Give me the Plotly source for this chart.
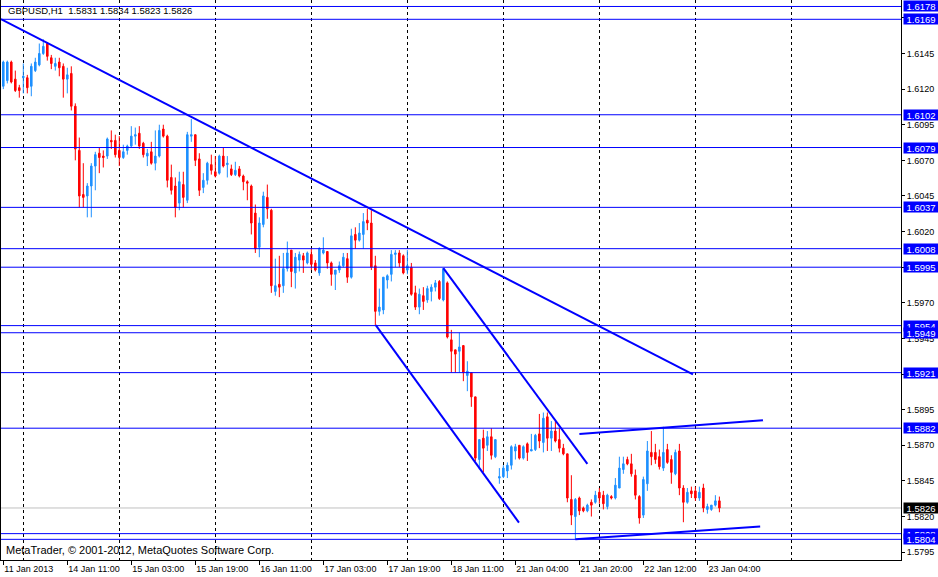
import plotly.graph_objects as go

# ---------------- data (GBPUSD H1) ----------------
opens = [1.6122, 1.6126, 1.6139, 1.6127, 1.6121, 1.6128, 1.6128, 1.6122, 1.6133, 1.6137,
         1.6145, 1.6152, 1.6142, 1.6136, 1.6139, 1.6136, 1.6127, 1.6131, 1.6108, 1.6077,
         1.6046, 1.6045, 1.6052, 1.6066, 1.6075, 1.6073, 1.6073, 1.6084, 1.6084, 1.6077,
         1.6072, 1.6077, 1.6080, 1.6087, 1.6089, 1.6082, 1.6073, 1.6076, 1.6068, 1.6073,
         1.6092, 1.6087, 1.6058, 1.6052, 1.6040, 1.6053, 1.6042, 1.6087, 1.6088, 1.6071,
         1.6051, 1.6056, 1.6067, 1.6062, 1.6061, 1.6073, 1.6067, 1.6064, 1.6060, 1.6064,
         1.6059, 1.6055, 1.6052, 1.6033, 1.6009, 1.6025, 1.6044, 1.6035, 1.5978, 1.5983,
         1.5982, 1.5994, 1.6007, 1.5991, 1.6000, 1.6003, 1.5998, 1.6004, 1.5998, 1.5991,
         1.6005, 1.6006, 1.5998, 1.5990, 1.5993, 1.5996, 1.6001, 1.5988, 1.6018, 1.6014,
         1.6018, 1.6028, 1.6026, 1.5996, 1.5964, 1.5965, 1.5986, 1.5990, 1.6004, 1.6005,
         1.6003, 1.5993, 1.5995, 1.5977, 1.5967, 1.5975, 1.5972, 1.5978, 1.5981, 1.5985,
         1.5972, 1.5984, 1.5944, 1.5937, 1.5936, 1.5940, 1.5919, 1.5921, 1.5904, 1.5860,
         1.5875, 1.5870, 1.5876, 1.5862, 1.5847, 1.5848, 1.5852, 1.5856, 1.5866, 1.5870,
         1.5861, 1.5871, 1.5866, 1.5867, 1.5878, 1.5872, 1.5890, 1.5875, 1.5880, 1.5874,
         1.5868, 1.5864, 1.5832, 1.5820, 1.5833, 1.5826, 1.5824, 1.5830, 1.5830, 1.5837,
         1.5835, 1.5827, 1.5834, 1.5833, 1.5840, 1.5853, 1.5860, 1.5857, 1.5849, 1.5834,
         1.5821, 1.5843, 1.5865, 1.5865, 1.5862, 1.5854, 1.5867, 1.5860, 1.5850, 1.5866,
         1.5840, 1.5830, 1.5838, 1.5838, 1.5833, 1.5840, 1.5825, 1.5825, 1.5828, 1.5831]
highs = [1.6140, 1.6140, 1.6140, 1.6133, 1.6123, 1.6138, 1.6130, 1.6138, 1.6142, 1.6152,
         1.6155, 1.6153, 1.6144, 1.6142, 1.6142, 1.6138, 1.6135, 1.6136, 1.6110, 1.6086,
         1.6068, 1.6054, 1.6068, 1.6076, 1.6079, 1.6077, 1.6086, 1.6091, 1.6088, 1.6087,
         1.6081, 1.6081, 1.6094, 1.6093, 1.6094, 1.6083, 1.6078, 1.6083, 1.6091, 1.6095,
         1.6095, 1.6088, 1.6067, 1.6058, 1.6062, 1.6062, 1.6090, 1.6099, 1.6088, 1.6075,
         1.6061, 1.6069, 1.6074, 1.6073, 1.6074, 1.6079, 1.6073, 1.6067, 1.6069, 1.6066,
         1.6060, 1.6056, 1.6053, 1.6039, 1.6030, 1.6048, 1.6053, 1.6036, 1.6001, 1.6003,
         1.6005, 1.6013, 1.6007, 1.6005, 1.6006, 1.6005, 1.6006, 1.6008, 1.6000, 1.6009,
         1.6016, 1.6006, 1.5999, 1.5993, 1.5999, 1.6005, 1.6005, 1.6022, 1.6023, 1.6026,
         1.6033, 1.6036, 1.6035, 1.6003, 1.5980, 1.5988, 1.5990, 1.6007, 1.6007, 1.6007,
         1.6004, 1.6007, 1.5998, 1.5982, 1.5980, 1.5981, 1.5982, 1.5983, 1.5986, 1.5986,
         1.5994, 1.5985, 1.5951, 1.5937, 1.5949, 1.5940, 1.5929, 1.5921, 1.5904, 1.5874,
         1.5881, 1.5880, 1.5882, 1.5874, 1.5854, 1.5856, 1.5858, 1.5870, 1.5871, 1.5870,
         1.5870, 1.5872, 1.5878, 1.5878, 1.5892, 1.5893, 1.5893, 1.5887, 1.5887, 1.5882,
         1.5871, 1.5864, 1.5849, 1.5833, 1.5834, 1.5827, 1.5829, 1.5832, 1.5838, 1.5840,
         1.5838, 1.5836, 1.5835, 1.5847, 1.5862, 1.5862, 1.5862, 1.5864, 1.5853, 1.5835,
         1.5848, 1.5873, 1.5880, 1.5871, 1.5867, 1.5883, 1.5871, 1.5863, 1.5867, 1.5871,
         1.5842, 1.5840, 1.5841, 1.5841, 1.5841, 1.5843, 1.5829, 1.5828, 1.5835, 1.5834]
lows = [1.6120, 1.6124, 1.6124, 1.6118, 1.6114, 1.6117, 1.6117, 1.6115, 1.6132, 1.6136,
        1.6144, 1.6140, 1.6134, 1.6133, 1.6129, 1.6114, 1.6117, 1.6105, 1.6070, 1.6037,
        1.6037, 1.6030, 1.6030, 1.6049, 1.6061, 1.6065, 1.6071, 1.6078, 1.6072, 1.6066,
        1.6071, 1.6074, 1.6079, 1.6081, 1.6078, 1.6072, 1.6066, 1.6067, 1.6063, 1.6072,
        1.6086, 1.6051, 1.6046, 1.6030, 1.6035, 1.6037, 1.6040, 1.6083, 1.6066, 1.6045,
        1.6047, 1.6053, 1.6060, 1.6058, 1.6060, 1.6065, 1.6058, 1.6059, 1.6059, 1.6058,
        1.6049, 1.6042, 1.6018, 1.6005, 1.6002, 1.6023, 1.6029, 1.5977, 1.5975, 1.5974,
        1.5977, 1.5992, 1.5981, 1.5980, 1.5992, 1.5991, 1.5997, 1.5993, 1.5992, 1.5989,
        1.6004, 1.5994, 1.5982, 1.5979, 1.5991, 1.5995, 1.5984, 1.5987, 1.6008, 1.6013,
        1.6008, 1.6021, 1.5993, 1.5954, 1.5961, 1.5962, 1.5980, 1.5985, 1.5995, 1.5995,
        1.5990, 1.5990, 1.5975, 1.5965, 1.5962, 1.5965, 1.5970, 1.5971, 1.5978, 1.5972,
        1.5971, 1.5945, 1.5921, 1.5921, 1.5921, 1.5915, 1.5908, 1.5897, 1.5859, 1.5853,
        1.5851, 1.5866, 1.5860, 1.5861, 1.5843, 1.5847, 1.5847, 1.5853, 1.5860, 1.5860,
        1.5860, 1.5859, 1.5866, 1.5866, 1.5868, 1.5865, 1.5866, 1.5866, 1.5872, 1.5865,
        1.5863, 1.5830, 1.5814, 1.5804, 1.5821, 1.5823, 1.5823, 1.5820, 1.5829, 1.5829,
        1.5825, 1.5825, 1.5832, 1.5832, 1.5840, 1.5850, 1.5856, 1.5848, 1.5832, 1.5815,
        1.5819, 1.5838, 1.5856, 1.5857, 1.5853, 1.5852, 1.5857, 1.5843, 1.5849, 1.5835,
        1.5816, 1.5829, 1.5833, 1.5831, 1.5831, 1.5823, 1.5822, 1.5824, 1.5827, 1.5823]
closes = [1.6139, 1.6139, 1.6125, 1.6119, 1.6119, 1.6129, 1.6121, 1.6136, 1.6139, 1.6145,
          1.6150, 1.6143, 1.6138, 1.6138, 1.6135, 1.6127, 1.6130, 1.6108, 1.6078, 1.6045,
          1.6044, 1.6052, 1.6066, 1.6074, 1.6072, 1.6072, 1.6085, 1.6083, 1.6074, 1.6072,
          1.6076, 1.6080, 1.6087, 1.6088, 1.6080, 1.6074, 1.6075, 1.6068, 1.6073, 1.6091,
          1.6087, 1.6056, 1.6049, 1.6037, 1.6055, 1.6044, 1.6088, 1.6088, 1.6070, 1.6049,
          1.6056, 1.6068, 1.6063, 1.6059, 1.6073, 1.6066, 1.6068, 1.6060, 1.6063, 1.6059,
          1.6055, 1.6054, 1.6026, 1.6008, 1.6026, 1.6045, 1.6036, 1.5982, 1.5982, 1.5981,
          1.5994, 1.6005, 1.5992, 1.6002, 1.6004, 1.6000, 1.6005, 1.5997, 1.5993, 1.6008,
          1.6007, 1.5998, 1.5990, 1.5993, 1.5996, 1.6002, 1.5988, 1.6017, 1.6014, 1.6019,
          1.6027, 1.6026, 1.5995, 1.5964, 1.5967, 1.5988, 1.5989, 1.6004, 1.6005, 1.5998,
          1.5991, 1.5996, 1.5976, 1.5967, 1.5976, 1.5971, 1.5980, 1.5981, 1.5984, 1.5973,
          1.5994, 1.5946, 1.5936, 1.5934, 1.5939, 1.5921, 1.5922, 1.5904, 1.5861, 1.5874,
          1.5868, 1.5876, 1.5863, 1.5874, 1.5848, 1.5854, 1.5856, 1.5869, 1.5869, 1.5861,
          1.5869, 1.5865, 1.5867, 1.5877, 1.5873, 1.5889, 1.5875, 1.5880, 1.5873, 1.5868,
          1.5864, 1.5833, 1.5821, 1.5832, 1.5824, 1.5824, 1.5828, 1.5828, 1.5835, 1.5833,
          1.5829, 1.5835, 1.5833, 1.5842, 1.5854, 1.5857, 1.5857, 1.5850, 1.5835, 1.5819,
          1.5846, 1.5866, 1.5862, 1.5860, 1.5855, 1.5865, 1.5858, 1.5851, 1.5865, 1.5840,
          1.5830, 1.5837, 1.5836, 1.5833, 1.5837, 1.5826, 1.5827, 1.5828, 1.5831, 1.5826]
bars = list(range(len(opens)))

tick_bars = [0, 16, 32, 48, 64, 80, 96, 112, 128, 144, 160, 176]
tick_labels = ["11 Jan 2013", "14 Jan 11:00", "15 Jan 03:00", "15 Jan 19:00",
               "16 Jan 11:00", "17 Jan 03:00", "17 Jan 19:00", "18 Jan 11:00",
               "21 Jan 04:00", "21 Jan 20:00", "22 Jan 12:00", "23 Jan 04:00"]
grid_bars = [5, 29, 53, 77, 101, 125, 149, 173, 197]
price_ticks = [1.5795, 1.5820, 1.5845, 1.5870, 1.5895, 1.5920, 1.5945, 1.5970,
               1.5995, 1.6020, 1.6045, 1.6070, 1.6095, 1.6120, 1.6145, 1.6170]

level_prices = [1.6178, 1.6169, 1.6102, 1.6079, 1.6037, 1.6008, 1.5995,
                1.5954, 1.5949, 1.5921, 1.5882, 1.5808, 1.5804]
bid_price = 1.5826

trend_x0 = [-0.6, 93.1, 110.0, 144.0, 143.0]
trend_y0 = [1.61691, 1.59544, 1.59943, 1.58780, 1.58040]
trend_x1 = [172.4, 128.9, 146.0, 189.9, 189.2]
trend_y1 = [1.59198, 1.58157, 1.58569, 1.58876, 1.58130]

header = "GBPUSD,H1  1.5831 1.5834 1.5823 1.5826"
footer = "MetaTrader, \u00a9 2001-2012, MetaQuotes Software Corp."

BLUE_LINE = "#0000FF"
BULL = "#1E90FF"
BEAR = "#FF0000"
FONT = "Liberation Sans"

fig = go.Figure()

fig.add_trace(go.Candlestick(
    x=bars, open=opens, high=highs, low=lows, close=closes,
    increasing=dict(line=dict(color=BULL, width=1), fillcolor=BULL),
    decreasing=dict(line=dict(color=BEAR, width=1), fillcolor=BEAR),
    whiskerwidth=0, hoverinfo="skip", showlegend=False,
))

for xa, ya, xb, yb in zip(trend_x0, trend_y0, trend_x1, trend_y1):
    fig.add_trace(go.Scatter(x=[xa, xb], y=[ya, yb], mode="lines",
                             line=dict(color=BLUE_LINE, width=2),
                             hoverinfo="skip", showlegend=False))

shapes = []
annotations = []
shapes.append(dict(type="line", xref="paper", x0=0, x1=1, yref="y",
                   y0=bid_price, y1=bid_price, layer="below",
                   line=dict(color="#C0C0C0", width=1)))
for p in level_prices:
    shapes.append(dict(type="line", xref="paper", x0=0, x1=1, yref="y",
                       y0=p, y1=p, line=dict(color=BLUE_LINE, width=1)))
    annotations.append(dict(xref="paper", x=1, xanchor="left", xshift=2,
                            yref="y", y=p, yanchor="middle", text=f"{p:.4f}",
                            showarrow=False, bgcolor=BLUE_LINE, borderpad=0,
                            width=34, height=10, align="center",
                            font=dict(family=FONT, size=9.5, color="white")))
annotations.append(dict(xref="paper", x=1, xanchor="left", xshift=2,
                        yref="y", y=bid_price, yanchor="middle",
                        text=f"{bid_price:.4f}", showarrow=False,
                        bgcolor="black", borderpad=0, width=34, height=10,
                        align="center",
                        font=dict(family=FONT, size=9.5, color="white")))
annotations.append(dict(xref="paper", x=0, xanchor="left", xshift=5,
                        yref="paper", y=1, yanchor="top", yshift=-3,
                        text=header, showarrow=False,
                        font=dict(family=FONT, size=9.5, color="black")))
annotations.append(dict(xref="paper", x=0, xanchor="left", xshift=3,
                        yref="paper", y=0, yanchor="bottom", yshift=2,
                        text=footer, showarrow=False,
                        font=dict(family=FONT, size=11, color="black")))

fig.update_layout(
    width=938, height=577,
    margin=dict(l=1, r=37, t=0, b=17),
    paper_bgcolor="white", plot_bgcolor="white",
    showlegend=False, hovermode=False,
    boxgap=0.45,
    shapes=shapes, annotations=annotations,
    font=dict(family=FONT, size=9, color="black"),
    xaxis=dict(
        range=[-0.575, 224.4], rangeslider=dict(visible=False),
        tickmode="array", tickvals=tick_bars, ticktext=tick_labels,
        ticks="outside", ticklen=4, tickcolor="black",
        ticklabelposition="outside right",
        showline=True, linecolor="black", linewidth=1,
        showgrid=False, zeroline=False,
        tickfont=dict(family=FONT, size=9, color="black"),
        minor=dict(tickmode="array", tickvals=grid_bars, ticks="",
                   showgrid=True, gridcolor="black", gridwidth=1,
                   griddash="3px,3px"),
    ),
    yaxis=dict(
        side="right", range=[1.578949, 1.618255],
        tickmode="array", tickvals=price_ticks, tickformat=".4f",
        ticks="outside", ticklen=3, tickcolor="black",
        showline=True, linecolor="black", linewidth=1, mirror=True,
        showgrid=False, zeroline=False,
        tickfont=dict(family=FONT, size=9, color="black"),
    ),
)

fig.write_html(
    "out.html",
    config={"displayModeBar": False},
    post_script="document.body.style.margin='0';document.body.style.padding='0';"
                "document.body.style.overflow='hidden';",
)
